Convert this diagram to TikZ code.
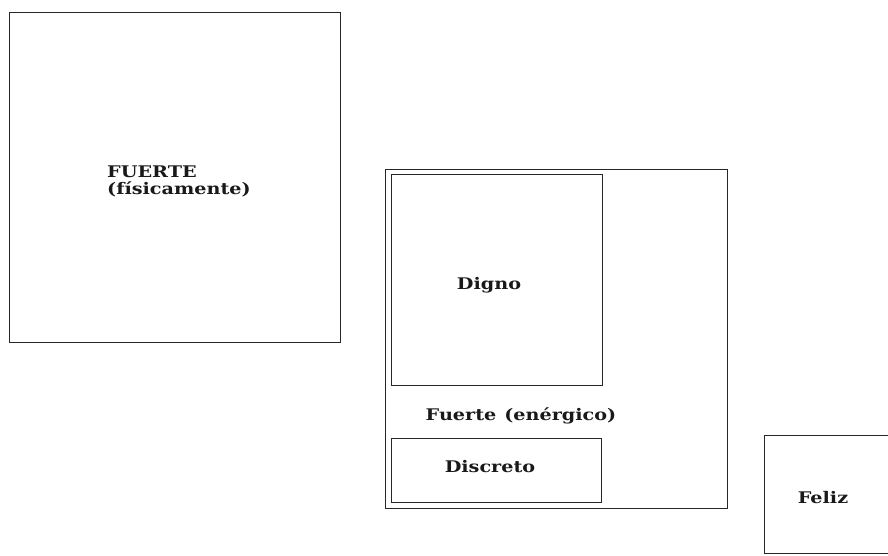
\documentclass[tikz,border=0pt]{standalone}
\usepackage{fontspec}
\newfontfamily\lblfont[FakeStretch=1.2]{DejaVu Serif}
\begin{document}
\begin{tikzpicture}[x=1pt,y=-1pt,
  frame/.style={draw=black!85, line width=0.9pt, rectangle, inner sep=0pt, anchor=north west},
  lbl/.style={font=\lblfont\bfseries\fontsize{16}{17}\selectfont, inner sep=0pt, text=black!90}]
\useasboundingbox (0,0) rectangle (888,555);
\node[frame, minimum width=331, minimum height=330] (fis) at (9,12) {};
\node[frame, minimum width=342, minimum height=339] (ene) at (385,169) {};
\node[frame, minimum width=211, minimum height=211] (dig) at (391,174) {};
\node[frame, minimum width=210, minimum height=64] (dis) at (391,438) {};
\node[frame, minimum width=130, minimum height=118] (fel) at (764,435) {};
\node[lbl, anchor=base west, align=left] (tfis) at (107,194) {FUERTE\\(físicamente)};
\node[lbl, anchor=base] (tdig) at (489,289) {Digno};
\node[lbl, anchor=base] (tene) at (521,420) {Fuerte\hspace{0.5em}(enérgico)};
\node[lbl, anchor=base] (tdis) at (490,472) {Discreto};
\node[lbl, anchor=base] (tfel) at (823,503) {Feliz};
\end{tikzpicture}
\end{document}
